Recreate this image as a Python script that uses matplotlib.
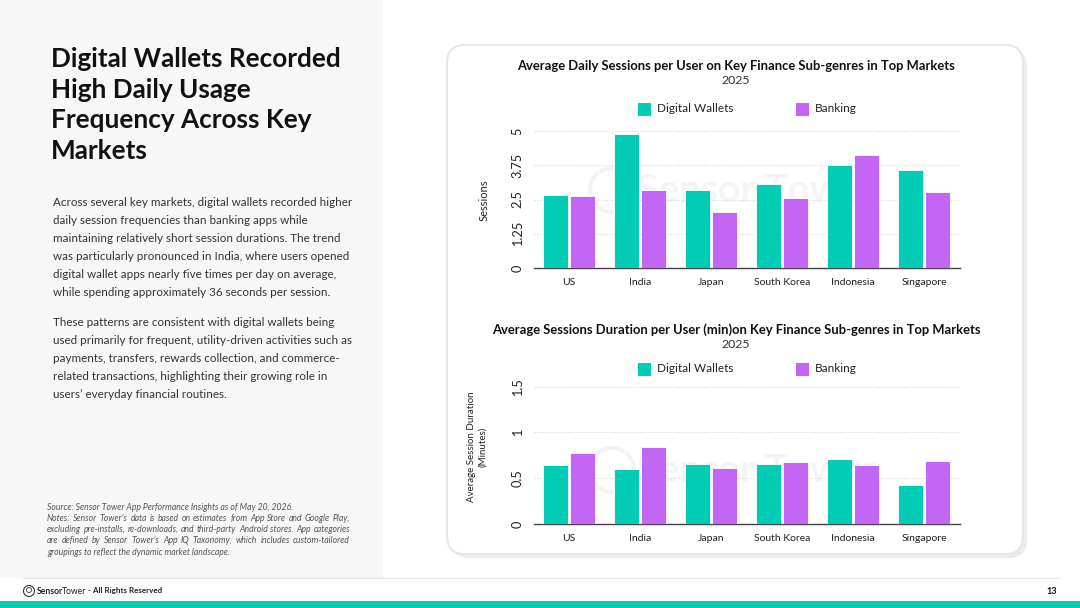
import matplotlib.pyplot as plt
from matplotlib.patches import FancyBboxPatch, Rectangle, Circle
import numpy as np

plt.rcParams['font.family'] = ['Lato', 'DejaVu Sans']

W, H = 1080, 608

markets = ['US', 'India', 'Japan', 'South Korea', 'Indonesia', 'Singapore']
sessions_wallets = [2.68, 4.90, 2.85, 3.08, 3.77, 3.56]
sessions_banking = [2.61, 2.83, 2.05, 2.55, 4.14, 2.79]
duration_wallets = [0.65, 0.60, 0.655, 0.66, 0.71, 0.43]
duration_banking = [0.78, 0.84, 0.61, 0.68, 0.65, 0.69]
sessions_ticks = [0, 1.25, 2.5, 3.75, 5]
sessions_ticklabels = ['0', '1.25', '2.5', '3.75', '5']
duration_ticks = [0, 0.5, 1, 1.5]
duration_ticklabels = ['0', '0.5', '1', '1.5']

TEAL = '#00CDB4'
PURPLE = '#C466F5'

title_lines = ['Digital Wallets Recorded', 'High Daily Usage',
               'Frequency Across Key', 'Markets']
para1 = ['Across several key markets, digital wallets recorded higher',
         'daily session frequencies than banking apps while',
         'maintaining relatively short session durations. The trend',
         'was particularly pronounced in India, where users opened',
         'digital wallet apps nearly five times per day on average,',
         'while spending approximately 36 seconds per session.']
para2 = ['These patterns are consistent with digital wallets being',
         'used primarily for frequent, utility-driven activities such as',
         'payments, transfers, rewards collection, and commerce-',
         'related transactions, highlighting their growing role in',
         'users\u2019 everyday financial routines.']
notes = ['Source: Sensor Tower App Performance Insights as of May 20, 2026.',
         'Notes: Sensor Tower\u2019s data is based on estimates from App Store and Google Play,',
         'excluding pre-installs, re-downloads, and third-party Android stores. App categories',
         'are defined by Sensor Tower\u2019s App IQ Taxonomy, which includes custom-tailored',
         'groupings to reflect the dynamic market landscape.']


def rect(x0, y0, x1, y1):
    # pixel box (top-left origin) -> figure fraction
    return [x0 / W, 1 - y1 / H, (x1 - x0) / W, (y1 - y0) / H]


fig = plt.figure(figsize=(W / 100, H / 100), dpi=100)
renderer = fig.canvas.get_renderer()

# background layer in pixel coordinates
bg = fig.add_axes([0, 0, 1, 1], zorder=-1)
bg.set_xlim(0, W)
bg.set_ylim(H, 0)
bg.axis('off')
bg.add_patch(Rectangle((0, 0), 383, 578, color='#f7f7f7', lw=0))
bg.add_patch(FancyBboxPatch((451, 49), 576, 509, boxstyle='round,pad=0,rounding_size=18',
                            fc='#ececec', ec='none'))
bg.add_patch(FancyBboxPatch((447, 45), 576, 509, boxstyle='round,pad=0,rounding_size=18',
                            fc='white', ec='#e6e6e6', lw=1.5))
bg.plot([23, 1058], [578, 578], color='#e4e4e4', lw=0.8)
bg.add_patch(Rectangle((0, 601), W, 7, color=TEAL, lw=0))
bg.add_patch(Circle((29, 591), 5.5, fc='none', ec='#333333', lw=0.8))
bg.add_patch(Circle((29, 590), 2.5, fc='none', ec='#333333', lw=0.6))

# watermarks
for cy in (190, 470):
    bg.add_patch(Circle((612, cy), 22, fc='none', ec='#f3f3f3', lw=3))
    bg.text(637, cy, 'Sensor Tower', fontsize=28, fontweight='bold', color='#f4f4f4',
            va='center', ha='left')

# left panel text
for i, s in enumerate(title_lines):
    bg.text(51, 59 + i * 30.7, s, fontsize=18.8, fontweight='bold', color='#111111',
            va='center', ha='left')
for i, s in enumerate(para1):
    bg.text(53, 202 + i * 18, s, fontsize=8.4, color='#333333', va='center', ha='left')
for i, s in enumerate(para2):
    bg.text(53, 322 + i * 18, s, fontsize=8.4, color='#333333', va='center', ha='left')

# notes, justified between x=47 and x=350 except first and last line
for i, s in enumerate(notes):
    y = 507 + i * 11.3
    kw = dict(fontsize=6.2, style='italic', color='#555555', va='center', ha='left')
    if i in (0, len(notes) - 1):
        bg.text(47, y, s, **kw)
        continue
    words = s.split(' ')
    arts = [bg.text(0, y, wd, **kw) for wd in words]
    widths = [a.get_window_extent(renderer).width for a in arts]
    gap = (350 - 47 - sum(widths)) / (len(words) - 1)
    xpos = 47
    for a, wd in zip(arts, widths):
        a.set_x(xpos)
        xpos += wd + gap

bg.text(37, 591, 'Sensor', fontsize=6.2, fontweight='bold', color='#222222', va='center')
bg.text(61.5, 591, 'Tower', fontsize=6.2, color='#222222', va='center')
bg.text(88, 591, '- All Rights Reserved', fontsize=5.8, fontweight='bold', color='#222222',
        va='center')
bg.text(1057, 591, '13', fontsize=6.5, fontweight='bold', color='#111111', va='center',
        ha='right')


def bar_panel(box, wallets, banking, ticks, ticklabels, top, title, title_y, leg_y):
    ax = fig.add_axes(rect(*box))
    x = np.arange(len(markets))
    w = 0.355
    ax.bar(x - w / 2 - 0.012, wallets, w, color=TEAL, edgecolor='white', lw=0.6, zorder=3)
    ax.bar(x + w / 2 + 0.012, banking, w, color=PURPLE, edgecolor='white', lw=0.6, zorder=3)
    ax.set_xlim(-0.5, len(markets) - 0.5)
    ax.set_ylim(0, top)
    ax.set_xticks(x)
    ax.set_xticklabels(markets, fontsize=7.5, color='#222222')
    ax.set_yticks(ticks)
    ax.set_yticklabels(ticklabels, fontsize=9.2, color='#222222', rotation=90, va='center')
    ax.tick_params(axis='both', length=0, pad=7)
    ax.grid(axis='y', color='#d8d8d8', lw=0.8, ls=(0, (1, 1.5)), zorder=0)
    for sp in ('top', 'right', 'left'):
        ax.spines[sp].set_visible(False)
    ax.spines['bottom'].set_color('#444444')
    ax.spines['bottom'].set_linewidth(1.0)
    ax.patch.set_alpha(0)

    bg.text(736, title_y, title, fontsize=9.4, fontweight='bold', color='#111111',
            ha='center', va='center')
    bg.text(736, title_y + 15, '2025', fontsize=8.8, color='#333333', ha='center',
            va='center')
    bg.add_patch(Rectangle((638, leg_y - 6.5), 13, 13, color=TEAL, lw=0))
    bg.text(657, leg_y, 'Digital Wallets', fontsize=8.5, color='#222222', va='center')
    bg.add_patch(Rectangle((796, leg_y - 6.5), 13, 13, color=PURPLE, lw=0))
    bg.text(815, leg_y, 'Banking', fontsize=8.5, color='#222222', va='center')
    return ax


ax1 = bar_panel((533.5, 131, 959.5, 268), sessions_wallets, sessions_banking,
                sessions_ticks, sessions_ticklabels, 5,
                'Average Daily Sessions per User on Key Finance Sub-genres in Top Markets',
                66, 109)
bg.text(484, 200, 'Sessions', fontsize=8, color='#222222', rotation=90, ha='center',
        va='center')

ax2 = bar_panel((533.5, 386.7, 959.5, 524), duration_wallets, duration_banking,
                duration_ticks, duration_ticklabels, 1.5,
                'Average Sessions Duration per User (min)on Key Finance Sub-genres in Top Markets',
                330, 369)
bg.text(477, 447, 'Average Session Duration\n(Minutes)', fontsize=7, color='#222222',
        rotation=90, ha='center', va='center', linespacing=1.3)

fig.savefig('out.png', dpi=100)
